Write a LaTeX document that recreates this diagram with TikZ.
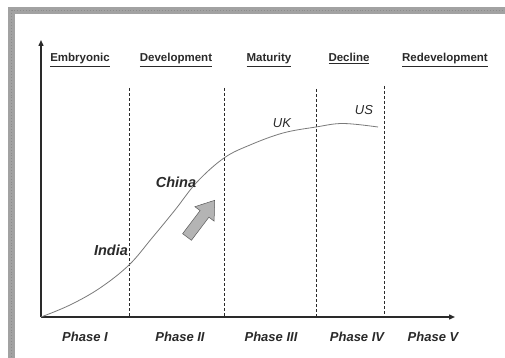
\documentclass[tikz,border=0pt]{standalone}
\usepackage{fontspec}
\setmainfont{Liberation Sans}
\usetikzlibrary{arrows.meta}
\definecolor{ink}{HTML}{2A2A2A}
\definecolor{curvegray}{HTML}{7A7A7A}
\definecolor{bandgray}{HTML}{A2A2A2}
\definecolor{arrowfill}{HTML}{B4B4B4}
\tikzset{
  axisline/.style={draw=ink, line width=1.4pt, -{Triangle[length=6pt,width=5pt]}},
  phaseline/.style={draw=ink, line width=0.6pt, dash pattern=on 3pt off 2pt},
  lifecurve/.style={draw=curvegray, line width=0.8pt},
  stagehead/.style={text=ink, font=\fontsize{11.5}{12}\selectfont\bfseries, inner sep=0pt, anchor=base},
  phaselabel/.style={text=ink, font=\fontsize{13}{14}\selectfont\bfseries\itshape, inner sep=0pt, anchor=base},
  countrybold/.style={text=ink, font=\fontsize{14.5}{15}\selectfont\bfseries\itshape, inner sep=0pt},
  countrylight/.style={text=ink, font=\fontsize{13}{14}\selectfont\itshape, inner sep=0pt},
  blockarrow/.style={fill=arrowfill, draw=black!65, line width=0.5pt, line join=miter}
}
\begin{document}
\begin{tikzpicture}[x=1pt, y=-1pt]
  \useasboundingbox (0,0) rectangle (505,358);
  \clip (0,0) rectangle (505,358);

  % frame band along the top and the left edge
  \fill[bandgray] (8,7) rectangle (520,14);
  \fill[bandgray] (8,7) rectangle (15,370);
  \draw[black!45, line width=0.9pt, dotted] (11.5,10.5) -- (520,10.5);
  \draw[black!45, line width=0.9pt, dotted] (11.5,10.5) -- (11.5,370);
  \fill[white] (15,14) rectangle (520,370);

  % axes
  \coordinate (origin) at (41,317);
  \coordinate (ytop) at (41,40);
  \coordinate (xend) at (455,317);
  \draw[axisline] (origin) -- (ytop);
  \draw[axisline] (origin) -- (xend);

  % phase boundaries
  \foreach \name/\xx/\yy in {b1/129/88, b2/224/88, b3/316/89, b4/384/86} {
    \coordinate (\name top) at (\xx,\yy);
    \coordinate (\name bot) at (\xx,317);
    \draw[phaseline] (\name top) -- (\name bot);
  }

  % life cycle curve
  \draw[lifecurve] plot[smooth, tension=0.6] coordinates {
    (41,317) (70,305) (100,288) (129,265) (152,238) (175,210) (197,182)
    (224,158) (250,145) (283,133) (316,127) (343,123.5) (378,127)};

  % stage headings
  \node[stagehead] (embryonic) at (80,62) {\underline{Embryonic}};
  \node[stagehead] (development) at (176,62) {\underline{Development}};
  \node[stagehead] (maturity) at (269,62) {\underline{Maturity}};
  \node[stagehead] (decline) at (349,62) {\underline{Decline}};
  \node[stagehead] (redevelopment) at (445,62) {\underline{Redevelopment}};

  % phase labels
  \node[phaselabel] (p1) at (85,341) {Phase I};
  \node[phaselabel] (p2) at (180,341) {Phase II};
  \node[phaselabel] (p3) at (271,341) {Phase III};
  \node[phaselabel] (p4) at (357,341) {Phase IV};
  \node[phaselabel] (p5) at (433,341) {Phase V};

  % countries along the curve
  \node[countrybold] (india) at (111,250) {India};
  \node[countrybold] (china) at (176,182) {China};
  \node[countrylight] (uk) at (282,123) {UK};
  \node[countrylight] (us) at (364,110) {US};

  % block arrow showing the direction of movement
  \path[blockarrow] (182.6,233.7) -- (191.4,240.3) -- (208.9,217.2) -- (214.1,221.1)
    -- (214.7,200.3) -- (194.9,206.7) -- (200.1,210.6) -- cycle;
\end{tikzpicture}
\end{document}
